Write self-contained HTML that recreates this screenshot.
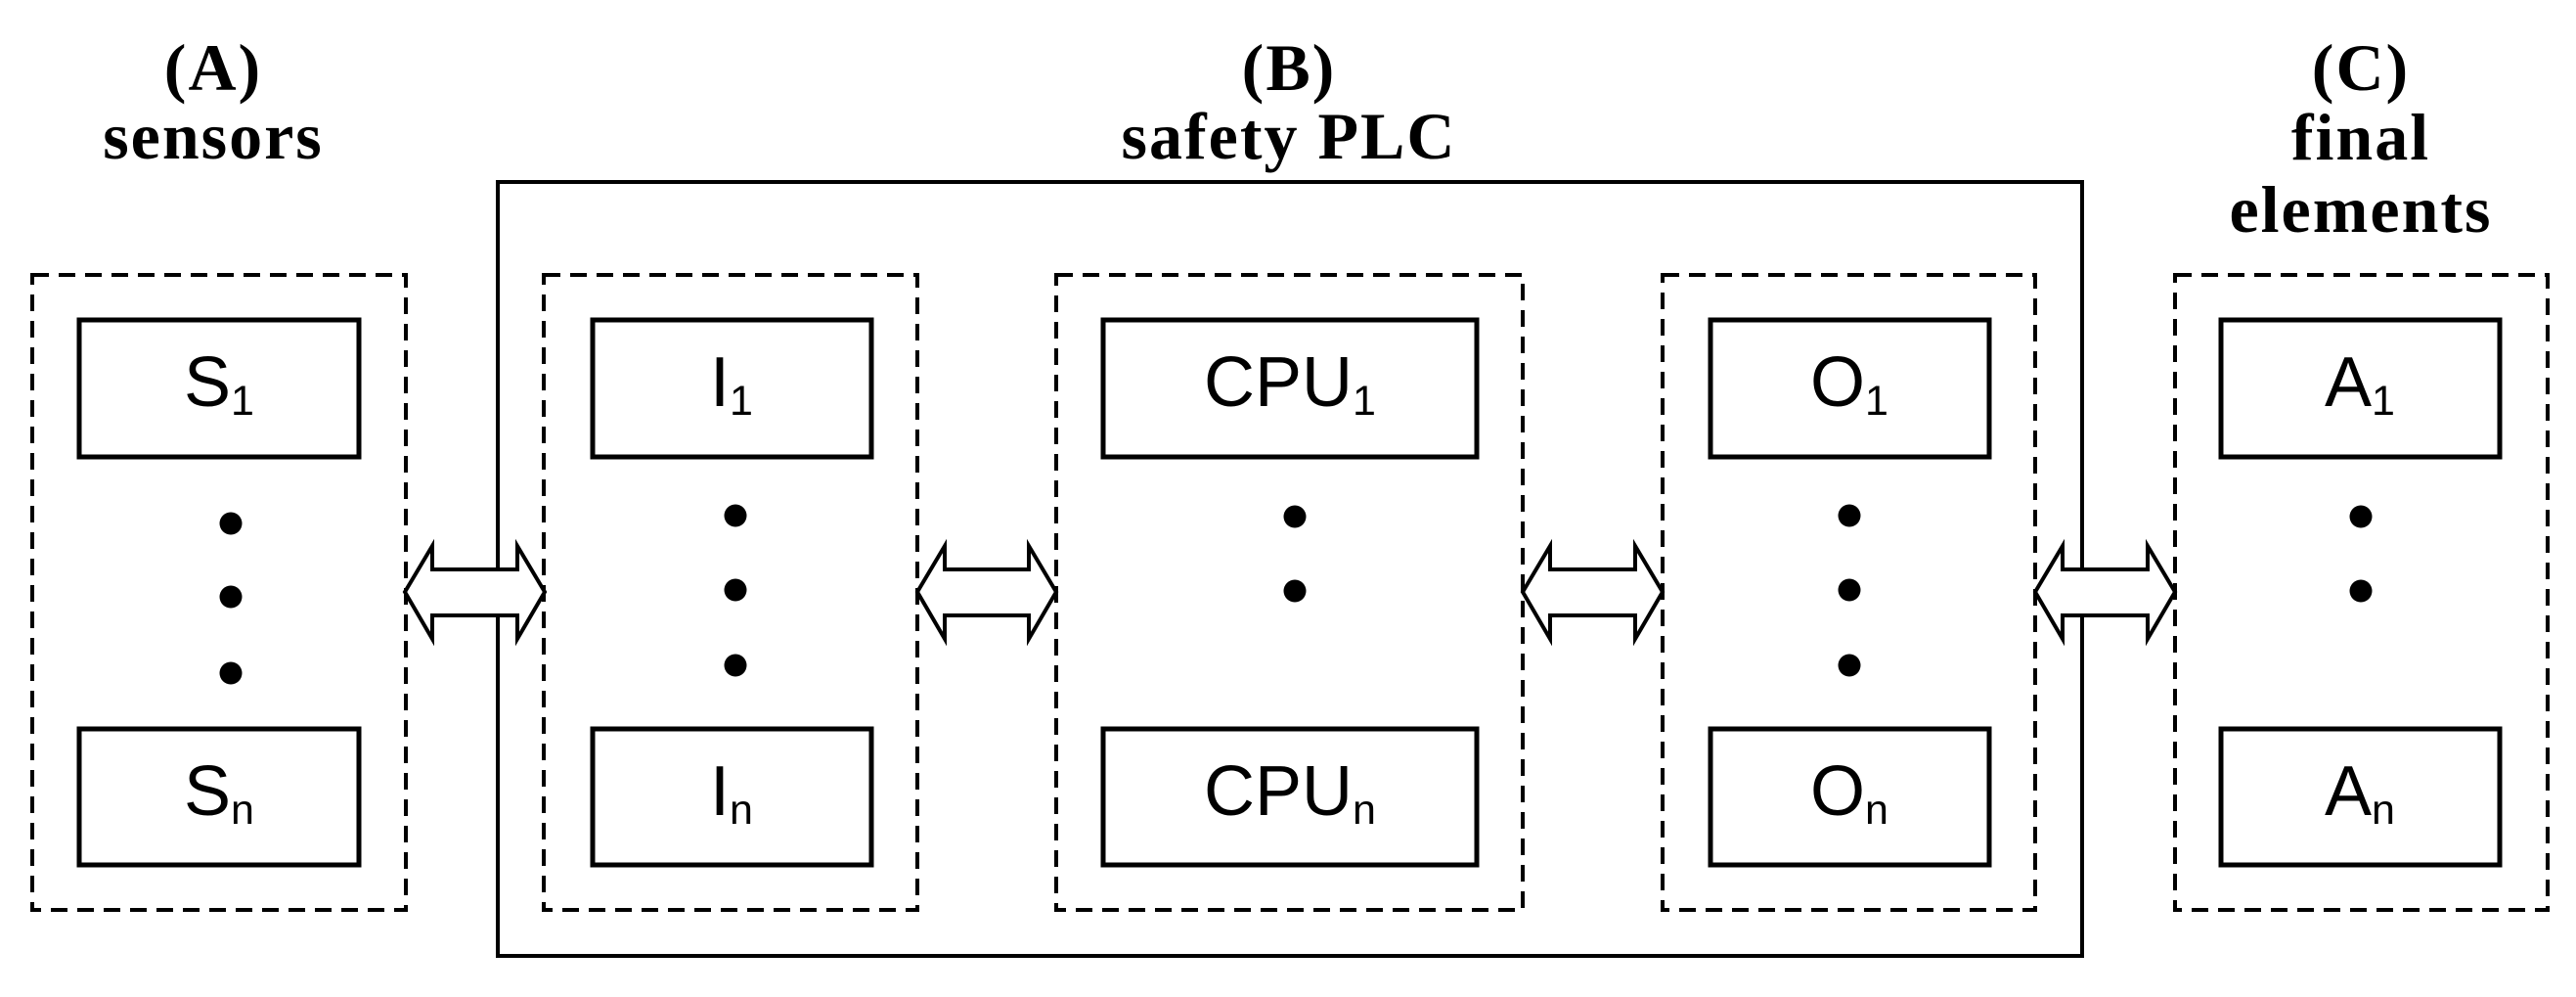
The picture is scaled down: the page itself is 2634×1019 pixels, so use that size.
<!DOCTYPE html>
<html><head><meta charset="utf-8"><style>
html,body{margin:0;padding:0;background:#fff;}
svg{display:block;}
.h{font-family:"Liberation Serif",serif;font-weight:bold;font-size:68px;letter-spacing:2px;}
.t{font-family:"Liberation Sans",sans-serif;font-size:72px;}
</style></head><body>
<svg width="2634" height="1019" viewBox="0 0 2634 1019" xmlns="http://www.w3.org/2000/svg">
<rect width="2634" height="1019" fill="#fff"/>
<!-- headers -->
<g class="h" text-anchor="middle" fill="#000">
<text x="218" y="92">(A)</text>
<text x="218" y="162">sensors</text>
<text x="1318" y="92">(B)</text>
<text x="1318" y="162">safety PLC</text>
<text x="2414" y="92">(C)</text>
<text x="2414" y="163">final</text>
<text x="2414" y="237">elements</text>
</g>
<!-- solid PLC box -->
<rect x="509" y="186" width="1620" height="791" fill="none" stroke="#000" stroke-width="4"/>
<!-- dashed groups -->
<g fill="none" stroke="#000" stroke-width="4" stroke-dasharray="17 10">
<rect x="33" y="281" width="382" height="649"/>
<rect x="556" y="281" width="382" height="649"/>
<rect x="1080" y="281" width="477" height="649"/>
<rect x="1700" y="281" width="381" height="649"/>
<rect x="2224" y="281" width="381" height="649"/>
</g>
<!-- boxes -->
<g fill="#fff" stroke="#000" stroke-width="5">
<rect x="81" y="327" width="286" height="140"/>
<rect x="81" y="745" width="286" height="139"/>
<rect x="606" y="327" width="285" height="140"/>
<rect x="606" y="745" width="285" height="139"/>
<rect x="1128" y="327" width="382" height="140"/>
<rect x="1128" y="745" width="382" height="139"/>
<rect x="1749" y="327" width="285" height="140"/>
<rect x="1749" y="745" width="285" height="139"/>
<rect x="2271" y="327" width="285" height="140"/>
<rect x="2271" y="745" width="285" height="139"/>
</g>
<!-- labels -->
<g class="t" text-anchor="middle" fill="#000">
<text x="224" y="415">S<tspan font-size="43" dy="9">1</tspan></text>
<text x="224" y="833">S<tspan font-size="43" dy="9">n</tspan></text>
<text x="748" y="415">I<tspan font-size="43" dy="9">1</tspan></text>
<text x="748" y="833">I<tspan font-size="43" dy="9">n</tspan></text>
<text x="1319" y="415">CPU<tspan font-size="43" dy="9">1</tspan></text>
<text x="1319" y="833">CPU<tspan font-size="43" dy="9">n</tspan></text>
<text x="1891" y="415">O<tspan font-size="43" dy="9">1</tspan></text>
<text x="1891" y="833">O<tspan font-size="43" dy="9">n</tspan></text>
<text x="2413" y="415">A<tspan font-size="43" dy="9">1</tspan></text>
<text x="2413" y="833">A<tspan font-size="43" dy="9">n</tspan></text>
</g>
<!-- dots -->
<g fill="#000">
<circle cx="236" cy="535" r="11.5"/><circle cx="236" cy="610" r="11.5"/><circle cx="236" cy="688" r="11.5"/>
<circle cx="752" cy="527" r="11.5"/><circle cx="752" cy="603" r="11.5"/><circle cx="752" cy="680" r="11.5"/>
<circle cx="1324" cy="528" r="11.5"/><circle cx="1324" cy="604" r="11.5"/>
<circle cx="1891" cy="527" r="11.5"/><circle cx="1891" cy="603" r="11.5"/><circle cx="1891" cy="680" r="11.5"/>
<circle cx="2414" cy="528" r="11.5"/><circle cx="2414" cy="604" r="11.5"/>
</g>
<!-- double arrows -->
<g fill="#fff" stroke="#000" stroke-width="4" stroke-linejoin="miter">
<polygon points="414,605 442,558 442,582 529,582 529,558 557,605 529,653 529,629 442,629 442,653"/>
<polygon points="938,605 966,558 966,582 1052,582 1052,558 1080,605 1052,653 1052,629 966,629 966,653"/>
<polygon points="1557,605 1585,558 1585,582 1672,582 1672,558 1700,605 1672,653 1672,629 1585,629 1585,653"/>
<polygon points="2081,605 2109,558 2109,582 2196,582 2196,558 2224,605 2196,653 2196,629 2109,629 2109,653"/>
</g>
</svg>
</body></html>
